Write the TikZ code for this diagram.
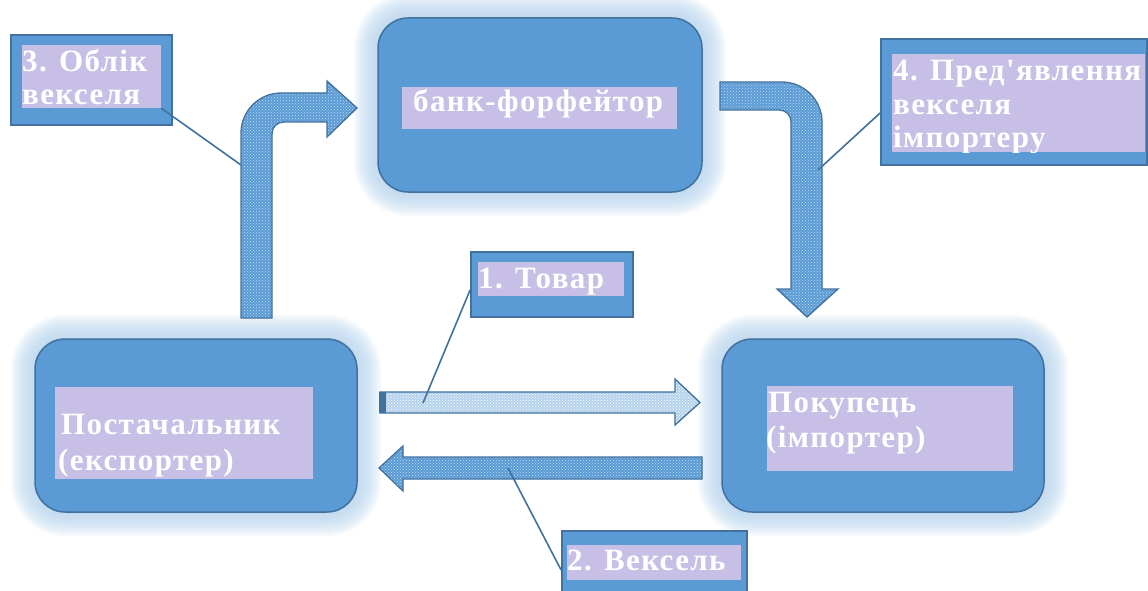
\documentclass[tikz,border=0pt]{standalone}
\usepackage{fontspec}
\newfontfamily\tnr{Liberation Serif}[LetterSpace=4.5]
\usetikzlibrary{patterns}
\definecolor{boxblue}{HTML}{5B9BD5}
\definecolor{edgeblue}{HTML}{41719C}
\definecolor{lav}{HTML}{C8BFE6}
\definecolor{glowblue}{HTML}{B5D2EC}
\definecolor{arrowfill}{HTML}{5B9BD5}
\tikzset{
  x=1pt, y=-1pt,
  bigbox/.style={draw=edgeblue, line width=1.5pt, fill=boxblue, rounded corners=30pt, inner sep=0pt},
  callbox/.style={draw=edgeblue, line width=1.8pt, fill=boxblue, inner sep=0pt},
  lavbox/.style={fill=lav, inner sep=0pt, draw=none},
  txt/.style={text=white, font=\tnr\bfseries\fontsize{31}{36}\selectfont, inner sep=0pt, anchor=base west},
  fatarrow/.style={draw=edgeblue, line width=1.3pt, preaction={fill=arrowfill}, pattern=crosshatch dots, pattern color=white!65!arrowfill},
  lightarrow/.style={draw=edgeblue, line width=1.3pt, preaction={fill=white!55!arrowfill}, pattern=crosshatch dots, pattern color=white},
  callline/.style={draw=edgeblue, line width=1.6pt},
}
\newcommand{\glowbox}[4]{%
  \foreach \d in {24,22,...,2}{
    \fill[glowblue, opacity=0.12, rounded corners=30pt+\d pt] (#1-\d,#2-\d) rectangle (#3+\d,#4+\d);
  }}
\begin{document}
\begin{tikzpicture}
\useasboundingbox (0,0) rectangle (1148,591);
\begin{scope}
\clip (0,0) rectangle (1148,591);
% glows
\glowbox{378}{18}{702}{192}
\glowbox{35}{339}{357}{512}
\glowbox{722}{339}{1044}{512}
% main boxes
\node[bigbox, minimum width=324pt, minimum height=174pt] (bank) at (540,105) {};
\node[bigbox, minimum width=322pt, minimum height=173pt] (supplier) at (196,425.5) {};
\node[bigbox, minimum width=322pt, minimum height=173pt] (buyer) at (883,425.5) {};
\node[lavbox, minimum width=275pt, minimum height=42pt] (banklav) at (539.5,108) {};
\node[lavbox, minimum width=258pt, minimum height=92pt] (suplav) at (184,433) {};
\node[lavbox, minimum width=246pt, minimum height=85pt] (buylav) at (890,428.5) {};
\node[txt] (banktxt) at (413,112) {банк-форфейтор};
\node[txt] (suptxt1) at (61,434) {Постачальник};
\node[txt] (suptxt2) at (58,470) {(експортер)};
\node[txt] (buytxt1) at (768,412) {Покупець};
\node[txt] (buytxt2) at (766,447) {(імпортер)};
% arrows
\draw[fatarrow] (241,318) -- (241,133) .. controls (241,111) and (259,93) .. (281,93) -- (327,93) -- (327,81) -- (357,108) -- (327,137) -- (327,122) -- (284,122) .. controls (277,122) and (272,127) .. (272,134) -- (272,318) -- cycle;
\draw[fatarrow] (720,82) -- (782,82) .. controls (804,82) and (822,100) .. (822,122) -- (822,289) -- (838,289) -- (807,317) -- (777,289) -- (791,289) -- (791,122) .. controls (791,115) and (786,110) .. (779,110) -- (720,110) -- cycle;
\draw[lightarrow] (380,392) -- (675,392) -- (675,379) -- (700,402.5) -- (675,425) -- (675,413) -- (380,413) -- cycle;
\fill[edgeblue] (379,392) rectangle (386,413);
\draw[fatarrow] (702,457) -- (403,457) -- (403,446) -- (379,468) -- (403,491) -- (403,479) -- (702,479) -- cycle;
\coordinate (a3) at (241,165);
\coordinate (a4) at (818,170);
\coordinate (a1) at (423,403);
\coordinate (a2) at (508,468);
% callouts
\node[callbox, minimum width=161pt, minimum height=90pt] (c3) at (91.5,80) {};
\node[lavbox, minimum width=139pt, minimum height=63pt] (c3lav) at (91.5,76.5) {};
\node[txt] (c3t1) at (22,72) {3. Облік};
\node[txt] (c3t2) at (22,105) {векселя};
\node[callbox, minimum width=266pt, minimum height=126pt] (c4) at (1014,102) {};
\node[lavbox, minimum width=253pt, minimum height=98pt] (c4lav) at (1018.5,103) {};
\begin{scope}
\clip (892,54) rectangle (1145,152);
\node[txt] (c4t1) at (893,81) {4. Пред'явлення};
\node[txt] (c4t2) at (893,114) {векселя};
\node[txt] (c4t3) at (893,147) {імпортеру};
\end{scope}
\node[callbox, minimum width=162pt, minimum height=65pt] (c1) at (552,284.5) {};
\node[lavbox, minimum width=146pt, minimum height=34pt] (c1lav) at (551,279) {};
\node[txt] (c1t) at (478,288) {1. Товар};
\node[callbox, minimum width=185pt, minimum height=80pt] (c2) at (654.5,571) {};
\node[lavbox, minimum width=174pt, minimum height=35pt] (c2lav) at (654,562.5) {};
\node[txt] (c2t) at (567,570) {2. Вексель};
\draw[callline] (c3lav.south east) -- (a3);
\draw[callline] (c4.west) ++(0,11) -- (a4);
\draw[callline] (c1.west) ++(0,5.5) -- (a1);
\draw[callline] (c2.west) ++(0,-1) -- (a2);
\end{scope}
\end{tikzpicture}
\end{document}
